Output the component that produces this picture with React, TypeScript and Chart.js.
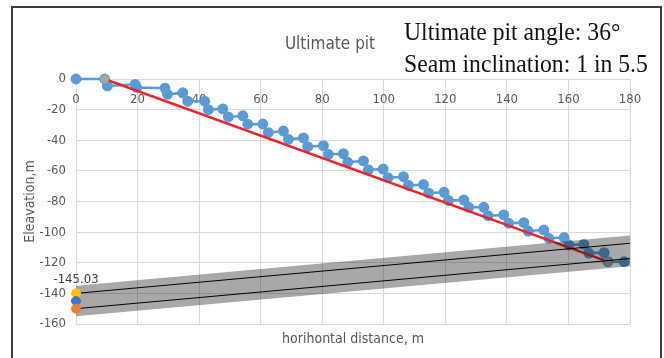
import React, { useEffect, useRef } from "react";
import { Chart, registerables } from "chart.js";

Chart.register(...registerables);

// Bench profile of the pit wall (distance, elevation)
const benchX = [0, 9.3, 10.2, 19.2, 19.7, 28.9, 29.7, 34.7, 36.3, 41.8, 43, 47.7, 49.5, 54.2, 55.8, 60.7, 62.5, 67.4, 69, 73.9, 75.3, 80.4, 82, 86.9, 88.3, 93.4, 95, 99.8, 101.4, 106.4, 108, 112.9, 114.6, 119.6, 121, 126, 127.6, 132.5, 133.9, 139, 140.6, 145.5, 146.9, 152, 153.6, 158.6, 160.2, 165, 166.6, 171.6, 172.8, 178.1];
const benchY = [0, 0, -4.5, -3.5, -5.5, -6, -10, -9, -14.5, -14.5, -20, -19.5, -24.8, -24, -29.5, -29.4, -35, -34, -39.4, -38.5, -44.2, -43.5, -49.2, -48.8, -54.4, -53.5, -59.3, -58.8, -64.5, -63.8, -69.5, -68.9, -74.5, -74, -79.3, -79, -83.8, -83.8, -89.3, -88.8, -94.2, -93.8, -99.3, -98.6, -104, -103.5, -108.4, -108, -113.7, -113.4, -119.3, -119.3];

// Overall pit slope: crest to toe
const pitX = [9.3, 172.8];
const pitY = [0, -119.3];

// Coal seam roof / floor and the shaded seam zone
const seamX = [0, 180];
const roofY = [-140, -107.27];
const floorY = [-150, -117.27];
const zoneTopY = [-135, -102.27];
const zoneBottomY = [-155, -122.27];

// Seam points at the origin
const originX = [0, 0, 0];
const originY = [-140, -145.03, -150];
const originColors = ["#FFC000", "#4472C4", "#ED7D31"];
const labelledIndex = 1;

const xTicks = { min: 0, max: 180, step: 20 };
const yTicks = { min: -160, max: 0, step: 20 };

const chartTitle = "Ultimate pit";
const xTitle = "horihontal distance, m";
const yTitle = "Eleavation,m";
const noteLines = ["Ultimate pit angle: 36°", "Seam inclination: 1 in 5.5"];

const pts = (xs: number[], ys: number[]) => xs.map((x, i) => ({ x, y: ys[i] }));

const SANS = "'DejaVu Sans Condensed', Roboto, sans-serif";

const textPlugin = {
  id: "textLayer",
  afterDraw(chart: any) {
    const { ctx, chartArea } = chart;
    const cx = (chartArea.left + chartArea.right) / 2;
    ctx.save();
    ctx.fillStyle = "#595959";
    ctx.textAlign = "center";
    ctx.textBaseline = "middle";
    ctx.font = `17px ${SANS}`;
    ctx.fillText(chartTitle, 330, 45);

    ctx.font = `14px ${SANS}`;
    ctx.fillText(xTitle, cx, 339);

    ctx.save();
    ctx.translate(30, (chartArea.top + chartArea.bottom) / 2);
    ctx.rotate(-Math.PI / 2);
    ctx.fillText(yTitle, 0, 0);
    ctx.restore();

    // value label on the seam mid point
    const meta = chart.getDatasetMeta(chart.data.datasets.findIndex((d: any) => d.id === "origin"));
    const el = meta.data[labelledIndex];
    const v = chart.data.datasets[meta.index].data[labelledIndex].y;
    ctx.fillStyle = "#404040";
    ctx.font = `13px ${SANS}`;
    ctx.fillText(v.toFixed(2), el.x, el.y - 21);

    // annotation text
    ctx.fillStyle = "#111";
    ctx.textAlign = "left";
    ctx.textBaseline = "alphabetic";
    ctx.font = "26px 'Liberation Serif', 'Times New Roman', serif";
    ctx.save();
    ctx.translate(404, 0);
    ctx.scale(0.91, 1);
    ctx.fillText(noteLines[0], 0, 40);
    ctx.fillText(noteLines[1], 0, 72);
    ctx.restore();
    ctx.restore();
  },
};

export default function App() {
  const ref = useRef<HTMLCanvasElement | null>(null);

  useEffect(() => {
    if (!ref.current) return;
    const chart = new Chart(ref.current, {
      type: "scatter",
      data: {
        datasets: [
          {
            id: "origin",
            data: pts(originX, originY),
            showLine: false,
            pointRadius: 4.5,
            pointBackgroundColor: originColors,
            pointBorderColor: originColors,
            clip: false,
            order: 0,
          } as any,
          {
            data: pts(seamX, roofY),
            showLine: true,
            borderColor: "#000",
            borderWidth: 1,
            pointRadius: 0,
            order: 1,
          },
          {
            data: pts(seamX, floorY),
            showLine: true,
            borderColor: "#000",
            borderWidth: 1,
            pointRadius: 0,
            order: 1,
          },
          {
            data: pts(seamX, zoneTopY),
            showLine: true,
            borderWidth: 0,
            borderColor: "rgba(0,0,0,0)",
            pointRadius: 0,
            fill: "+1",
            backgroundColor: "rgba(0,0,0,0.34)",
            order: 2,
          },
          {
            data: pts(seamX, zoneBottomY),
            showLine: true,
            borderWidth: 0,
            borderColor: "rgba(0,0,0,0)",
            pointRadius: 0,
            order: 2,
          },
          {
            data: pts(pitX, pitY),
            showLine: true,
            borderColor: "#A5A5A5",
            backgroundColor: "#A5A5A5",
            borderWidth: 0,
            pointRadius: 4.5,
            pointBackgroundColor: "#A5A5A5",
            pointBorderColor: "#A5A5A5",
            clip: false,
            order: 3,
          } as any,
          {
            data: pts(pitX, pitY),
            showLine: true,
            borderColor: "#EE2229",
            borderWidth: 2.5,
            pointRadius: 0,
            order: 4,
          },
          {
            data: pts(benchX, benchY),
            showLine: true,
            borderColor: "#5B9BD5",
            borderWidth: 2.5,
            pointRadius: 4.2,
            pointBackgroundColor: "#5B9BD5",
            pointBorderColor: "#5B9BD5",
            clip: false,
            order: 5,
          } as any,
        ],
      },
      options: {
        responsive: false,
        animation: false,
        layout: { padding: { top: 79, right: 34, bottom: 34, left: 0 } },
        plugins: {
          legend: { display: false },
          tooltip: { enabled: false },
          title: { display: false },
        },
        scales: {
          x: {
            type: "linear",
            position: { y: 0 } as any,
            min: xTicks.min,
            max: xTicks.max,
            ticks: {
              stepSize: xTicks.step,
              padding: 13,
              color: "#595959",
              font: { family: SANS, size: 13 },
            },
            grid: { color: "#d9d9d9", lineWidth: 1, drawTicks: false },
            border: { display: false },
          },
          y: {
            type: "linear",
            position: "left",
            min: yTicks.min,
            max: yTicks.max,
            afterFit: (s: any) => {
              s.width = 76;
            },
            ticks: {
              stepSize: yTicks.step,
              padding: 10,
              color: "#595959",
              font: { family: SANS, size: 13 },
            },
            grid: { color: "#d9d9d9", lineWidth: 1, drawTicks: false },
            border: { display: false },
          },
        },
      },
      plugins: [textPlugin],
    });
    return () => chart.destroy();
  }, []);

  return (
    <div style={{ position: "absolute", left: 0, top: 0, width: 664, height: 358, overflow: "hidden", background: "#fff" }}>
      <div
        style={{
          position: "absolute",
          left: 11,
          top: 6,
          width: 651,
          height: 400,
          border: "2px solid #3c3c3c",
          boxSizing: "border-box",
        }}
      />
      <canvas ref={ref} width={664} height={358} style={{ position: "absolute", left: 0, top: 0 }} />
    </div>
  );
}
